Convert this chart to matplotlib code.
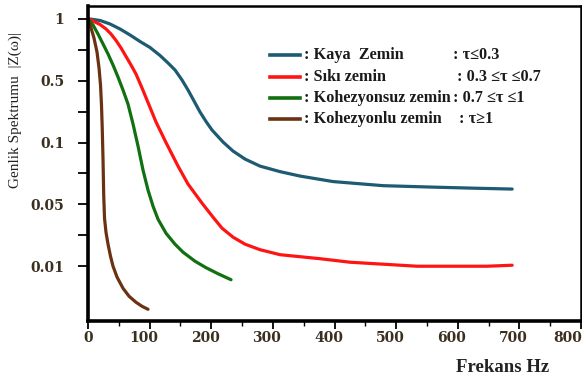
import numpy as np
import matplotlib
matplotlib.use("Agg")
import matplotlib.pyplot as plt
import matplotlib.transforms as mtransforms
from matplotlib.lines import Line2D
from matplotlib.ticker import FixedLocator, NullFormatter

# Frequency (Hz) and spectral amplitude |Z(w)| for each soil class
kaya_f = [0, 4.9, 19.5, 35.7, 51.9, 68.2, 84.4, 100.6, 116.9, 129.9, 141.2, 152.6,
          162.3, 172.1, 181.8, 191.6, 201.3, 219.2, 235.4, 254.9, 279.2, 311.7,
          344.2, 397.7, 478.9, 560.1, 625.0, 688.3]
kaya_a = [1.0, 0.9978, 0.9833, 0.9454, 0.8938, 0.8355, 0.7767, 0.7261, 0.6637,
          0.6100, 0.5640, 0.5040, 0.3925, 0.2944, 0.2211, 0.1725, 0.1382, 0.1011,
          0.0908, 0.0830, 0.0767, 0.0721, 0.0686, 0.0645, 0.0616, 0.0606, 0.0599,
          0.0593]

siki_f = [0, 8.1, 19.5, 29.2, 37.3, 45.5, 53.6, 61.7, 69.8, 77.9, 87.7, 97.4,
          110.4, 126.6, 146.1, 162.3, 185.1, 202.9, 217.5, 235.4, 254.9, 279.2,
          311.7, 376.6, 425.3, 534.1, 647.7, 688.3]
siki_a = [1.0, 0.9778, 0.9401, 0.8938, 0.8450, 0.7854, 0.7221, 0.6563, 0.5965,
          0.5391, 0.4133, 0.2832, 0.1703, 0.0999, 0.0767, 0.0627, 0.0506, 0.0357,
          0.0268, 0.0212, 0.01766, 0.01530, 0.01343, 0.01210, 0.01104, 0.00995,
          0.00995, 0.01021]

kohsuz_f = [0, 8.1, 16.2, 24.4, 32.5, 40.6, 48.7, 56.8, 64.9, 73.1, 81.2, 89.3,
            97.4, 105.5, 113.6, 126.6, 141.2, 154.2, 173.7, 191.6, 211.0, 232.1]
kohsuz_a = [1.0, 0.9349, 0.8450, 0.7551, 0.6750, 0.5965, 0.5211, 0.3925, 0.2723,
            0.1616, 0.0960, 0.0733, 0.0586, 0.0476, 0.0339, 0.0235, 0.01766,
            0.01434, 0.01133, 0.00957, 0.00818, 0.00700]

kohlu_f = [0, 4.9, 9.7, 14.6, 17.9, 20.3, 21.9, 23.2, 24.4, 25.5, 26.8, 29.2,
           32.5, 36.5, 40.6, 47.1, 56.8, 66.6, 77.9, 87.7, 97.4]
kohlu_a = [1.0, 0.9039, 0.8078, 0.6902, 0.5767, 0.4469, 0.2653, 0.1382, 0.0821,
           0.0554, 0.0348, 0.0241, 0.01766, 0.01291, 0.00995, 0.00750, 0.00560,
           0.00455, 0.00389, 0.00350, 0.00324]

series_names = [": Kaya  Zemin", ": Sıkı zemin", ": Kohezyonsuz zemin", ": Kohezyonlu zemin"]
series_conds = [": τ≤0.3", ": 0.3 ≤τ ≤0.7", ": 0.7 ≤τ ≤1", ": τ≥1"]
colors = ["#1d5b72", "#ff1414", "#11700f", "#6a3212"]

y_ticks = [1, 0.5, 0.1, 0.05, 0.01]
y_tick_labels = ["1", "0.5", "0.1", "0.05", "0.01"]
x_ticks = [0, 100, 200, 300, 400, 500, 600, 700, 800]

# Evenly spaced labelled levels on the amplitude axis
_klog = np.log10(np.array(y_ticks, dtype=float))[::-1]   # increasing
_kidx = np.arange(len(y_ticks), dtype=float)[::-1]
_s_lo = 0.69897
_s_hi = 0.30103


def fwd(v):
    v = np.asarray(v, dtype=float)
    lg = np.log10(np.clip(v, 1e-12, None))
    out = np.interp(lg, _klog, _kidx)
    out = np.where(lg < _klog[0], _kidx[0] + (_klog[0] - lg) / _s_lo, out)
    out = np.where(lg > _klog[-1], _kidx[-1] - (lg - _klog[-1]) / _s_hi, out)
    return -out


def inv(p):
    idx = -np.asarray(p, dtype=float)
    lg = np.interp(idx, _kidx[::-1], _klog[::-1])
    lg = np.where(idx > _kidx[0], _klog[0] - (idx - _kidx[0]) * _s_lo, lg)
    lg = np.where(idx < _kidx[-1], _klog[-1] + (_kidx[-1] - idx) * _s_hi, lg)
    return 10 ** lg


plt.rcParams["font.family"] = ["Liberation Serif", "DejaVu Serif"]

fig = plt.figure(figsize=(5.82, 3.79), dpi=100)
ax = fig.add_axes([88 / 582, 1 - 321 / 379, 493 / 582, 315 / 379])
ax.set_yscale("function", functions=(fwd, inv))

for f, a, c in zip([kaya_f, siki_f, kohsuz_f, kohlu_f],
                   [kaya_a, siki_a, kohsuz_a, kohlu_a], colors):
    ax.plot(f, a, color=c, lw=2.3, solid_capstyle="round", solid_joinstyle="round")

ax.set_xlim(0, 800)
ax.set_ylim(inv(-4.89), inv(0.21))

ax.yaxis.set_major_locator(FixedLocator(y_ticks))
ax.set_yticklabels(y_tick_labels)
minor_y = [float(inv(-(i + 0.5))) for i in range(4)]
ax.yaxis.set_minor_locator(FixedLocator(minor_y))
ax.yaxis.set_minor_formatter(NullFormatter())

ax.xaxis.set_major_locator(FixedLocator(x_ticks))
ax.xaxis.set_minor_locator(FixedLocator([50 + 100 * i for i in range(8)]))

lab_col = "#3b3020"
ax.tick_params(axis="y", which="major", direction="out", length=7, width=1.3,
               pad=10, labelsize=10, labelcolor=lab_col)
ax.tick_params(axis="y", which="minor", direction="out", length=7, width=1.3)
ax.tick_params(axis="x", which="major", direction="out", length=6, width=1.3,
               pad=1.5, labelsize=10, labelcolor=lab_col)
ax.tick_params(axis="x", which="minor", direction="out", length=3.5, width=1.0)
for lbl in ax.get_xticklabels() + ax.get_yticklabels():
    lbl.set_fontweight("bold")
    lbl.set_fontfamily("DejaVu Serif")

# nudge frequency labels slightly left of their ticks
for i, lbl in enumerate(ax.get_xticklabels()):
    dx = 0 if i == 0 else (-13 if i == len(x_ticks) - 1 else -6)
    lbl.set_transform(lbl.get_transform() +
                      mtransforms.ScaledTranslation(dx / 100, 0, fig.dpi_scale_trans))

for side in ["left", "bottom"]:
    ax.spines[side].set_linewidth(2.6)
for side in ["top", "right"]:
    ax.spines[side].set_linewidth(1.8)

fig.text(15 / 582, 1 - 110 / 379, "Genlik Spektrumu  |Z(ω)|", rotation=90,
         ha="center", va="center", fontsize=11, color="#222222")
fig.text(503 / 582, 1 - 368 / 379, "Frekans Hz", ha="center", va="center",
         fontsize=13.5, fontweight="bold", color="#222222")

# Key
rows_y = [55, 77, 98, 119]
cond_x = [453, 457, 453, 459]
for name, cond, c, yy, cx in zip(series_names, series_conds, colors, rows_y, cond_x):
    yf = 1 - yy / 379
    fig.add_artist(Line2D([270 / 582, 300 / 582], [yf, yf], color=c, lw=2.6))
    fig.text(304 / 582, yf, name, ha="left", va="center", fontsize=11.7,
             fontweight="bold", color="#1a1a1a")
    fig.text(cx / 582, yf, cond, ha="left", va="center", fontsize=11.7,
             fontweight="bold", color="#1a1a1a")

fig.savefig("out.png", dpi=100)
